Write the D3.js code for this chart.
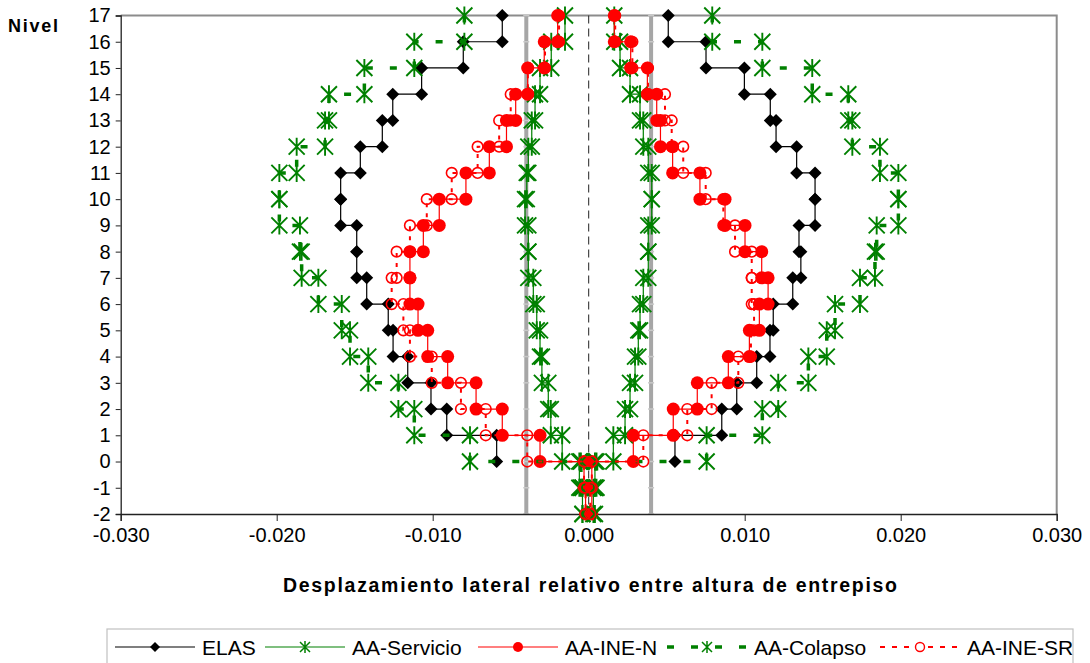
<!DOCTYPE html>
<html><head><meta charset="utf-8">
<script src="https://cdn.jsdelivr.net/npm/d3@7"></script>
<style>body{margin:0;background:#fff}svg{display:block;font-family:"Liberation Sans",Arial,sans-serif}</style>
</head><body><svg id="c" width="1090" height="663"></svg>
<script>
// Story k spans from level k-1 to level k
const stories = [17,16,15,14,13,12,11,10,9,8,7,6,5,4,3,2,1];
const basementStories = [0,-1];

const elasNeg = [-0.00554,-0.00804,-0.01071,-0.01256,-0.01323,-0.01464,-0.0159,-0.0159,-0.01487,-0.01487,-0.01423,-0.01285,-0.01254,-0.0116,-0.01011,-0.0091,-0.0059];
const elasPos = [0.0051,0.00752,0.00998,0.01164,0.01201,0.01333,0.01451,0.01451,0.01348,0.0136,0.01308,0.01183,0.01162,0.01077,0.00949,0.00853,0.00553];

const servNeg = [-0.00152,-0.0024,-0.00312,-0.00344,-0.00365,-0.00387,-0.00397,-0.00408,-0.00387,-0.00387,-0.00355,-0.00333,-0.00312,-0.0030,-0.00259,-0.00243,-0.0017];
const servPos = [0.00164,0.00201,0.00265,0.00329,0.0035,0.00382,0.00404,0.00404,0.00382,0.00382,0.0035,0.00329,0.00318,0.00297,0.00265,0.00233,0.00158];
const servNegBase = [-0.0006,-0.0004];
const servPosBase = [0.0004,0.0003];

const ineNNeg = [-0.00199,-0.00285,-0.00391,-0.00468,-0.00527,-0.00637,-0.00787,-0.00958,-0.0106,-0.01146,-0.01146,-0.01094,-0.01032,-0.00904,-0.00722,-0.00554,-0.00312];
const ineNPos = [0.00164,0.00269,0.00376,0.00436,0.0046,0.00538,0.00713,0.00874,0.01002,0.01109,0.0115,0.01094,0.0103,0.00895,0.00696,0.00542,0.00286];
const ineNNegBase = [-0.0003,-0.0002];
const ineNPosBase = [0.0002,0.0002];

const colNeg = [-0.00797,-0.01118,-0.01438,-0.01665,-0.0169,-0.01872,-0.01983,-0.01983,-0.01851,-0.0184,-0.01733,-0.01583,-0.0153,-0.01413,-0.0122,-0.01118,-0.00761];
const colPos = [0.00792,0.01113,0.01433,0.01664,0.0169,0.01867,0.01985,0.01985,0.01846,0.01835,0.01739,0.01579,0.01526,0.01408,0.01215,0.01113,0.00756];
const colNegBase = [-0.0005,-0.0004];
const colPosBase = [0.0005,0.0004];

const ineSRNeg = [-0.0019,-0.0028,-0.0039,-0.005,-0.00574,-0.00712,-0.00878,-0.01038,-0.01146,-0.01231,-0.01263,-0.01188,-0.01146,-0.01006,-0.00819,-0.0066,-0.00394];
const ineSRPos = [0.0017,0.0028,0.0038,0.00489,0.00532,0.00606,0.0075,0.00863,0.00938,0.01045,0.01045,0.0106,0.0104,0.00959,0.00788,0.00632,0.0035];
const ineSRNegBase = [-0.0003,-0.0002];
const ineSRPosBase = [0.0002,0.0001];

const xTickValues = [-0.03,-0.02,-0.01,0,0.01,0.02,0.03];
const xTickLabels = ["-0.030","-0.020","-0.010","0.000","0.010","0.020","0.030"];
const yTickValues = [17,16,15,14,13,12,11,10,9,8,7,6,5,4,3,2,1,0,-1,-2];
const limitValues = [-0.004, 0.004];
const seriesNames = ["ELAS","AA-Servicio","AA-INE-N","AA-Colapso","AA-INE-SR"];
const xTitle = "Desplazamiento lateral relativo entre altura de entrepiso";
const yTitle = "Nivel";

const svg = d3.select("#c");
svg.append("rect").attr("width",1090).attr("height",663).attr("fill","#fff");

const x = d3.scaleLinear().domain([-0.03,0.03]).range([120.7,1056.7]);
const y = d3.scaleLinear().domain([-2,17]).range([514,15.5]);

// plot frame (top/right gray)
svg.append("path").attr("d",`M${x(-0.03)},${y(17)}H${x(0.03)}V${y(-2)}`)
  .attr("fill","none").attr("stroke","#8c8c8c").attr("stroke-width",2);

// limit lines
limitValues.forEach(v=>{
  svg.append("line").attr("x1",x(v)).attr("x2",x(v)).attr("y1",y(17)).attr("y2",y(-2))
    .attr("stroke","#a6a6a6").attr("stroke-width",4);
  yTickValues.forEach(l=>{
    svg.append("line").attr("x1",x(v)-3).attr("x2",x(v)+3).attr("y1",y(l)).attr("y2",y(l))
      .attr("stroke","#c8c8c8").attr("stroke-width",1.5);
  });
});
// zero dashed line
svg.append("line").attr("x1",x(0)).attr("x2",x(0)).attr("y1",y(17)).attr("y2",y(-2))
  .attr("stroke","#222").attr("stroke-width",1).attr("stroke-dasharray","8,5");

// axes
const xAxis = d3.axisBottom(x).tickValues(xTickValues).tickSize(7)
  .tickFormat((d,i)=>xTickLabels[i]);
const gx = svg.append("g").attr("transform",`translate(0,${y(-2)})`).call(xAxis);
gx.select(".domain").attr("stroke","#222").attr("stroke-width",1.3);
gx.selectAll(".tick line").attr("stroke","#222");
gx.selectAll(".tick text").attr("font-size",20).attr("fill","#000").attr("dy","0.9em")
  .attr("font-family","'Liberation Sans',Arial,sans-serif");

const yAxis = d3.axisLeft(y).tickValues(yTickValues).tickSize(5).tickFormat(d=>String(d));
const gy = svg.append("g").attr("transform",`translate(${x(-0.03)},0)`).call(yAxis);
gy.select(".domain").attr("stroke","#222").attr("stroke-width",1.3);
gy.selectAll(".tick line").attr("stroke","#222");
gy.selectAll(".tick text").attr("font-size",20).attr("fill","#000").attr("x",-10)
  .attr("font-family","'Liberation Sans',Arial,sans-serif");

svg.append("text").attr("x",8).attr("y",32).attr("font-size",18).attr("font-weight","bold")
  .attr("textLength",50).attr("lengthAdjust","spacing").text(yTitle);
svg.append("text").attr("x",283).attr("y",592).attr("font-size",19.5).attr("font-weight","bold")
  .attr("textLength",614).attr("lengthAdjust","spacing").text(xTitle);

// step builder
function steps(st, vals){
  const pts=[];
  st.forEach((s,i)=>{pts.push([vals[i],s]);pts.push([vals[i],s-1]);});
  return pts;
}
const line = d3.line().x(d=>x(d[0])).y(d=>y(d[1]));

const green="#008000", red="#ff0000";
const markers = {
  diamond: g=>g.append("path").attr("d","M0,-6.5L6.5,0L0,6.5L-6.5,0Z").attr("fill","#000"),
  star: g=>g.append("path").attr("d","M-8,-8L8,8M-8,8L8,-8M0,-9L0,9").attr("stroke",green).attr("stroke-width",1.9).attr("fill","none"),
  dot: g=>g.append("circle").attr("r",6.5).attr("fill",red),
  ring: g=>g.append("circle").attr("r",5.3).attr("fill","none").attr("stroke",red).attr("stroke-width",1.6)
};

const series = [
  {name:seriesNames[0], sides:[steps(stories,elasNeg), steps(stories,elasPos)], color:"#000", width:1.2, dash:null, marker:"diamond"},
  {name:seriesNames[1], sides:[steps(stories.concat(basementStories),servNeg.concat(servNegBase)), steps(stories.concat(basementStories),servPos.concat(servPosBase))], color:green, width:1.2, dash:null, marker:"star"},
  {name:seriesNames[2], sides:[steps(stories.concat(basementStories),ineNNeg.concat(ineNNegBase)), steps(stories.concat(basementStories),ineNPos.concat(ineNPosBase))], color:red, width:1.2, dash:null, marker:"dot"},
  {name:seriesNames[3], sides:[steps(stories.concat(basementStories),colNeg.concat(colNegBase)), steps(stories.concat(basementStories),colPos.concat(colPosBase))], color:green, width:3.5, dash:"7,17", marker:"star"},
  {name:seriesNames[4], sides:[steps(stories.concat(basementStories),ineSRNeg.concat(ineSRNegBase)), steps(stories.concat(basementStories),ineSRPos.concat(ineSRPosBase))], color:red, width:2, dash:"4,6", marker:"ring"}
];

series.forEach(s=>{
  const g = svg.append("g");
  s.sides.forEach(pts=>{
    g.append("path").attr("d",line(pts)).attr("fill","none").attr("stroke",s.color)
      .attr("stroke-width",s.width).attr("stroke-dasharray",s.dash);
    pts.forEach(p=>{
      const m = g.append("g").attr("transform",`translate(${x(p[0])},${y(p[1])})`);
      markers[s.marker](m);
    });
  });
});

// legend
const lg = svg.append("g");
lg.append("rect").attr("x",107).attr("y",629).attr("width",966).attr("height",50)
  .attr("fill","#fff").attr("stroke","#c0c0c0").attr("stroke-width",1.2);
const legendX = [115,265,478,667,880];
const ly = 647;
series.forEach((s,i)=>{
  const x0 = legendX[i];
  lg.append("line").attr("x1",x0).attr("x2",x0+80).attr("y1",ly).attr("y2",ly)
    .attr("stroke",s.color).attr("stroke-width",s.marker==="star"&&s.dash?3.5:(s.dash?1.8:1.2))
    .attr("stroke-dasharray",s.dash?(s.marker==="star"?"7,17":"5,7"):null);
  const m = lg.append("g").attr("transform",`translate(${x0+40},${ly})`);
  if(s.marker==="diamond") m.append("path").attr("d","M0,-5L5,0L0,5L-5,0Z").attr("fill","#000");
  else if(s.marker==="star") m.append("path").attr("d","M-5,-5L5,5M-5,5L5,-5M0,-6L0,6").attr("stroke",green).attr("stroke-width",1.5);
  else if(s.marker==="dot") m.append("circle").attr("r",5).attr("fill",red);
  else m.append("circle").attr("r",4.5).attr("fill","#fff").attr("stroke",red).attr("stroke-width",1.4);
  lg.append("text").attr("x",x0+87).attr("y",ly+7.5).attr("font-size",21).attr("fill","#000").text(s.name);
});
</script></body></html>
